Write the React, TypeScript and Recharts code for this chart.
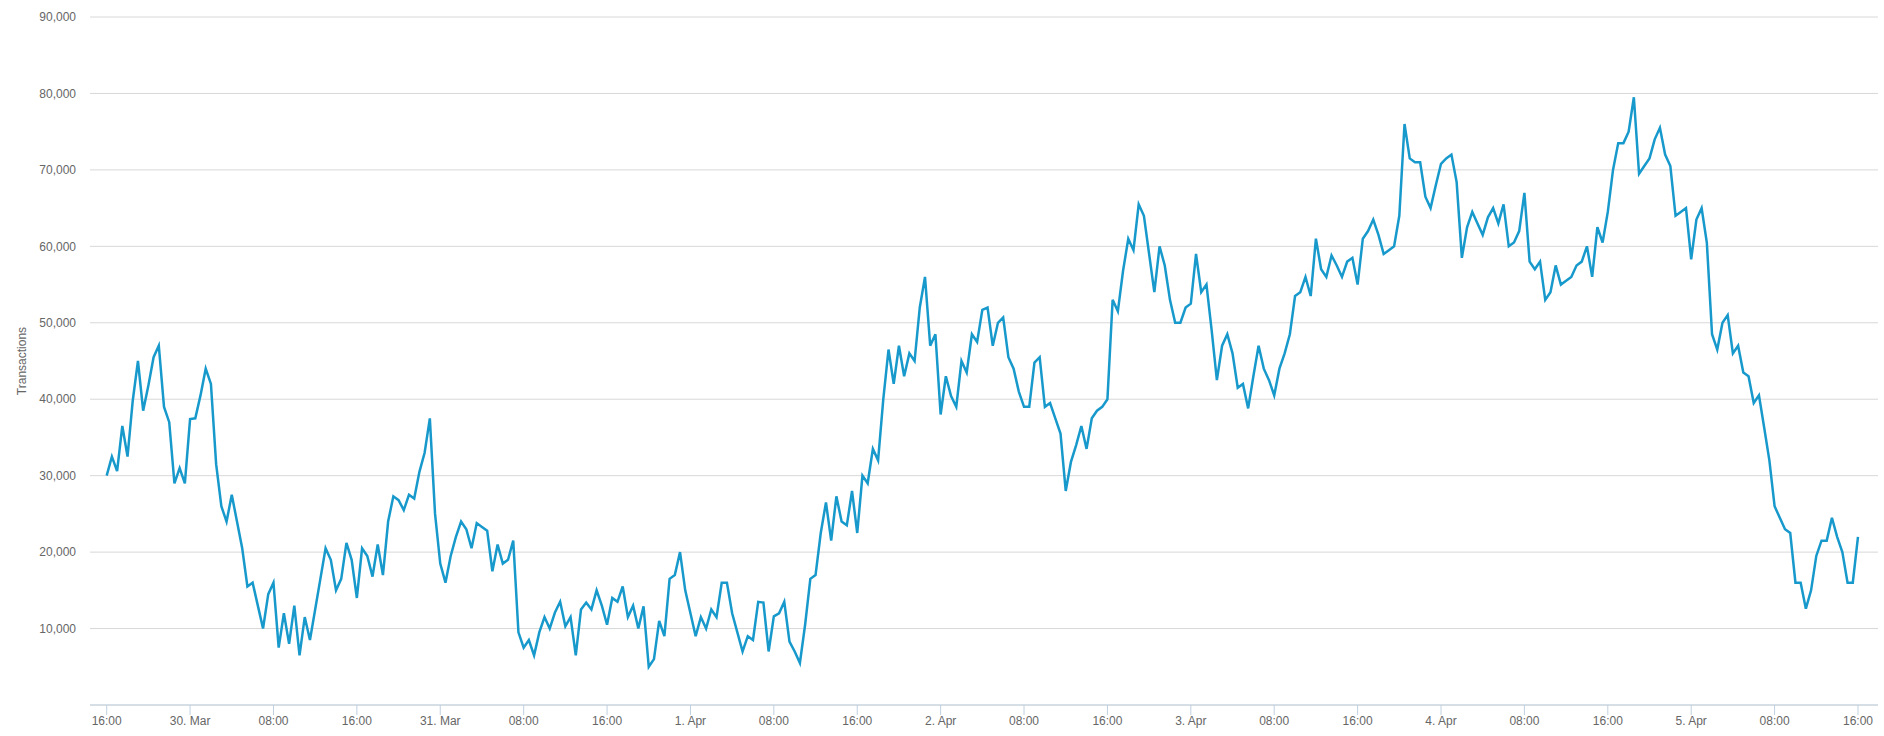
import { CartesianGrid, Label, Line, LineChart, XAxis, YAxis } from 'recharts';

// transactions, one reading every 30 min, starting 16:00 on 29 Mar
const day1 = [
  30000, 32500, 30600, 36500, 32500, 39800, 45000, 38500, 41800, 45500, 47000, 39000,
  37000, 29000, 31000, 29000, 37400, 37500, 40500, 44000, 42000, 31500, 26000, 24000,
  27500, 24000, 20500, 15500, 16000, 13000, 10000, 14500, 16000, 7500, 12000, 8000,
  13000, 6500, 11500, 8500, 12500, 16500, 20500, 19000, 15000, 16500, 21200, 19000,
];
const day2 = [
  14000, 20500, 19500, 16800, 21000, 17000, 24000, 27300, 26800, 25500, 27500, 27000,
  30500, 33000, 37500, 25000, 18500, 16000, 19500, 22000, 24000, 23000, 20500, 23800,
  23300, 22800, 17500, 21000, 18500, 19000, 21500, 9500, 7500, 8500, 6500, 9500,
  11500, 10000, 12100, 13500, 10300, 11500, 6500, 12500, 13400, 12500, 15000, 13000,
];
const day3 = [
  10500, 14000, 13500, 15500, 11500, 13000, 10000, 12900, 5000, 6000, 11000, 9000,
  16500, 17000, 20000, 15000, 12000, 9000, 11500, 10000, 12500, 11500, 16000, 16000,
  12000, 9500, 7000, 9000, 8500, 13500, 13400, 7000, 11600, 12000, 13500, 8300,
  7000, 5500, 10500, 16500, 17000, 22500, 26500, 21500, 27300, 24000, 23500, 28000,
];
const day4 = [
  22500, 30000, 29000, 33500, 32000, 40000, 46500, 42000, 47000, 43000, 46000, 45000,
  52000, 56000, 47000, 48500, 38000, 43000, 40400, 39000, 45000, 43500, 48500, 47500,
  51700, 52000, 47000, 50000, 50700, 45500, 44000, 41000, 39000, 39000, 44800, 45500,
  39000, 39500, 37500, 35500, 28000, 31800, 34000, 36500, 33500, 37500, 38500, 39000,
];
const day5 = [
  40000, 53000, 51500, 56800, 61000, 59500, 65500, 64000, 59000, 54000, 60000, 57500,
  53000, 50000, 50000, 52000, 52500, 59000, 54000, 55000, 49000, 42500, 47000, 48500,
  46000, 41500, 42000, 38800, 43000, 47000, 44000, 42500, 40500, 44000, 46000, 48500,
  53500, 54000, 56000, 53500, 61000, 57000, 56000, 58800, 57500, 56000, 58000, 58500,
];
const day6 = [
  55000, 61000, 62000, 63500, 61500, 59000, 59500, 60000, 64000, 76000, 71500, 71000,
  71000, 66500, 65000, 68000, 70800, 71500, 72000, 68400, 58500, 62500, 64500, 63000,
  61500, 63800, 65000, 63000, 65500, 60000, 60500, 62000, 67000, 58000, 57000, 58000,
  53000, 54000, 57500, 55000, 55500, 56000, 57500, 58000, 60000, 56000, 62500, 60500,
];
const day7 = [
  64500, 70000, 73500, 73500, 75000, 79500, 69500, 70500, 71500, 74000, 75500, 72000,
  70500, 64000, 64500, 65000, 58300, 63500, 65000, 60500, 48500, 46500, 50000, 51000,
  46000, 47000, 43500, 43000, 39500, 40500, 36300, 32000, 26000, 24500, 23000, 22500,
  16000, 16000, 12600, 15000, 19500, 21500, 21500, 24500, 22000, 20000, 16000, 16000,
];
const lastReading = [22000];

const transactions = [...day1, ...day2, ...day3, ...day4, ...day5, ...day6, ...day7, ...lastReading];
// hours since 16:00 29 Mar
const chartData = transactions.map((tx, i) => ({ t: i * 0.5, tx }));

const xTicks = [0, 8, 16, 24, 32, 40, 48, 56, 64, 72, 80, 88, 96, 104, 112, 120, 128, 136, 144, 152, 160, 168];
const xTickLabels = [
  '16:00', '30. Mar', '08:00', '16:00', '31. Mar', '08:00', '16:00', '1. Apr', '08:00', '16:00', '2. Apr',
  '08:00', '16:00', '3. Apr', '08:00', '16:00', '4. Apr', '08:00', '16:00', '5. Apr', '08:00', '16:00',
];
const yTicks = [10000, 20000, 30000, 40000, 50000, 60000, 70000, 80000, 90000];

const LINE = '#1799cc';
const GRID = '#d8d8d8';
const AXIS = '#c0d0e0';
const LABEL = '#666666';

function AxisTitle(props: any) {
  const vb = props.viewBox;
  const cx = vb.x + 22;
  const cy = vb.y + vb.height / 2;
  return (
    <text
      x={cx}
      y={cy}
      transform={`rotate(-90, ${cx}, ${cy})`}
      textAnchor="middle"
      dominantBaseline="central"
      fontSize={12}
      fill={LABEL}
    >
      Transactions
    </text>
  );
}

export default function App() {
  return (
    <div style={{ position: 'absolute', left: 0, top: 0, fontFamily: '"Liberation Sans", Arial, sans-serif', background: '#fff' }}>
      <LineChart width={1884} height={736} data={chartData} margin={{ top: 17, right: 6, bottom: 1, left: 0 }}>
        <CartesianGrid vertical={false} stroke={GRID} />
        <XAxis
          dataKey="t"
          type="number"
          domain={[-1.6, 169.92]}
          allowDataOverflow
          ticks={xTicks}
          interval={0}
          tickFormatter={(v: number) => xTickLabels[xTicks.indexOf(v)]}
          tick={{ fontSize: 12, fill: LABEL }}
          tickSize={10}
          tickMargin={1}
          stroke={AXIS}
          height={30}
        />
        <YAxis
          type="number"
          domain={[0, 90000]}
          ticks={yTicks}
          interval={0}
          width={90}
          axisLine={false}
          tickLine={false}
          tickSize={0}
          tickMargin={14}
          tickFormatter={(v: number) => v.toLocaleString('en-US')}
          tick={{ fontSize: 12, fill: LABEL }}
        >
          <Label content={AxisTitle} />
        </YAxis>
        <Line
          type="linear"
          dataKey="tx"
          stroke={LINE}
          strokeWidth={2.5}
          dot={false}
          activeDot={false}
          isAnimationActive={false}
        />
      </LineChart>
    </div>
  );
}
